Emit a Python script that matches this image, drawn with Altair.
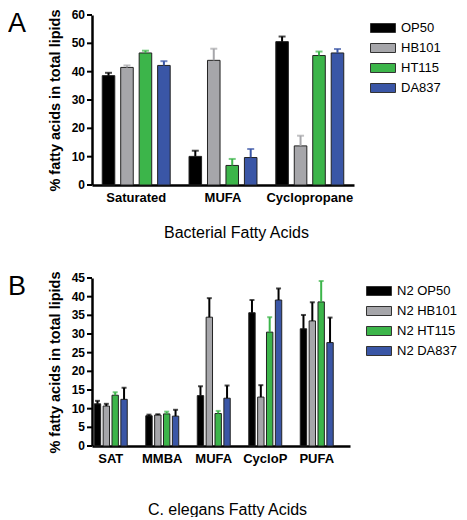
import altair as alt
import pandas as pd

# ---------------- Panel A data ----------------
categories_a = ["Saturated", "MUFA", "Cyclopropane"]
strains_a = ["OP50", "HB101", "HT115", "DA837"]
op50_a = [38.6, 10.1, 50.6]
hb101_a = [41.5, 44.0, 13.8]
ht115_a = [46.6, 6.9, 45.7]
da837_a = [42.2, 9.7, 46.6]
op50_a_err = [1.0, 2.0, 1.8]
hb101_a_err = [0.7, 4.1, 3.6]
ht115_a_err = [0.8, 2.3, 1.4]
da837_a_err = [1.5, 3.0, 1.4]
err_colors_a = ["#000000", "#a6a6aa", "#3cb54a", "#3a56a6"]
y_ticks_a = [0, 10, 20, 30, 40, 50, 60]

# ---------------- Panel B data ----------------
categories_b = ["SAT", "MMBA", "MUFA", "CycloP", "PUFA"]
strains_b = ["N2 OP50", "N2 HB101", "N2 HT115", "N2 DA837"]
op50_b = [11.3, 8.1, 13.5, 35.7, 31.4]
hb101_b = [10.7, 8.3, 34.5, 13.1, 33.5]
ht115_b = [13.6, 8.6, 8.7, 30.5, 38.6]
da837_b = [12.5, 8.0, 12.8, 39.1, 27.7]
op50_b_err = [0.8, 0.3, 2.5, 3.4, 3.7]
hb101_b_err = [0.6, 0.2, 5.1, 3.2, 5.0]
ht115_b_err = [0.8, 0.6, 0.7, 4.0, 5.6]
da837_b_err = [3.1, 1.7, 3.4, 3.1, 6.7]
err_colors_b = ["#000000", "#000000", "#3cb54a", "#000000"]
y_ticks_b = [0, 5, 10, 15, 20, 25, 30, 35, 40, 45]

bar_colors = ["#000000", "#a6a6aa", "#3cb54a", "#3a56a6"]
FONT = "Liberation Sans, Arial, Helvetica, sans-serif"


def make_df(cats, strains, vals, errs, ecolors):
    rows = []
    for s, v, e, c in zip(strains, vals, errs, ecolors):
        for cat, vv, ee in zip(cats, v, e):
            rows.append({"category": cat, "strain": s, "value": vv,
                         "top": vv + ee, "ecolor": c})
    return pd.DataFrame(rows)


df_a = make_df(categories_a, strains_a,
               [op50_a, hb101_a, ht115_a, da837_a],
               [op50_a_err, hb101_a_err, ht115_a_err, da837_a_err],
               err_colors_a)
df_b = make_df(categories_b, strains_b,
               [op50_b, hb101_b, ht115_b, da837_b],
               [op50_b_err, hb101_b_err, ht115_b_err, da837_b_err],
               err_colors_b)

legend_path = "M-1,-0.36H1V0.36H-1Z"


def panel(df, cats, strains, ymax, yticks, width, height, xscale, sub_pad,
          cap, letter, xtitle, title_shift, title_pad):
    yscale = alt.Scale(domain=[0, ymax], nice=False, zero=True)
    yaxis = alt.Axis(title="% fatty acids in total lipids",
                     labels=False, ticks=False, grid=False,
                     titleFontSize=14.5, titleFontWeight="bold",
                     titleColor="#000000", titlePadding=30,
                     domainColor="#000000", domainWidth=2.5)
    base = alt.Chart(df).encode(
        x=alt.X("category:N", sort=cats, scale=xscale,
                axis=alt.Axis(title=xtitle, labelAngle=0, ticks=False,
                              labelFontWeight="bold", labelFontSize=13,
                              labelPadding=6, titleFontSize=16,
                              titleFontWeight="normal", titlePadding=title_pad,
                              titleX=width / 2 + title_shift,
                              domainColor="#000000", domainWidth=2.5,
                              labelColor="#000000", titleColor="#000000")),
        xOffset=alt.XOffset("strain:N", sort=strains,
                            scale=alt.Scale(paddingInner=sub_pad)),
    )
    bars = base.mark_bar(stroke="#222222", strokeWidth=1).encode(
        y=alt.Y("value:Q", scale=yscale, axis=yaxis),
        color=alt.Color("strain:N", sort=strains,
                        scale=alt.Scale(domain=strains, range=bar_colors),
                        legend=alt.Legend(title=None, orient="right",
                                          offset=16, labelFontSize=13,
                                          labelColor="#000000",
                                          symbolType=legend_path,
                                          symbolSize=625,
                                          symbolStrokeColor="#333333",
                                          symbolStrokeWidth=1,
                                          symbolOpacity=1,
                                          labelOffset=5, rowPadding=-3)),
    )
    rules = base.mark_rule(strokeWidth=2).encode(
        y=alt.Y("value:Q", scale=yscale, axis=yaxis), y2="top:Q",
        stroke=alt.Stroke("ecolor:N", scale=None),
    )
    caps = base.mark_tick(thickness=2, size=cap).encode(
        y=alt.Y("top:Q", scale=yscale, axis=yaxis),
        color=alt.Color("ecolor:N", scale=None, legend=None),
    )
    tdf = pd.DataFrame({"tick": [float(t) for t in yticks],
                        "label": [str(t) for t in yticks]})
    tick_marks = alt.Chart(tdf).mark_rule(
        strokeWidth=2, color="#000000").encode(
        y=alt.Y("tick:Q", scale=yscale, axis=yaxis),
        x=alt.value(-5), x2=alt.value(0))
    tick_text = alt.Chart(tdf).mark_text(
        align="right", baseline="middle", fontSize=12, fontWeight="bold",
        font=FONT, color="#000000", dx=-7).encode(
        y=alt.Y("tick:Q", scale=yscale, axis=yaxis),
        x=alt.value(0), text=alt.Text("label:N"))
    lab = alt.Chart(pd.DataFrame({"t": [letter]})).mark_text(
        fontSize=27, font=FONT, align="left", baseline="top",
        color="#000000").encode(
        text="t:N", x=alt.value(-84), y=alt.value(-4))
    return alt.layer(bars, rules, caps, tick_marks, tick_text, lab
                     ).resolve_scale(color="independent").properties(
        width=width, height=height)


panel_a = panel(df_a, categories_a, strains_a, 60, y_ticks_a, 262, 170,
                alt.Scale(paddingInner=0.217, paddingOuter=0.118),
                0.32, 7, "A", "Bacterial Fatty Acids", 13, 20)
panel_b = panel(df_b, categories_b, strains_b, 45, y_ticks_b, 258, 168,
                alt.Scale(paddingInner=0.36, paddingOuter=0.185, align=0.12),
                0.28, 5, "B", "C. elegans Fatty Acids", 6, 36)

chart = alt.vconcat(panel_a, panel_b, spacing=30).resolve_scale(
    x="independent", y="independent", color="independent",
    xOffset="independent").configure(
    font=FONT, padding=0).configure_view(stroke=None)

chart.save("out.html", embed_options={"renderer": "svg", "actions": False})
